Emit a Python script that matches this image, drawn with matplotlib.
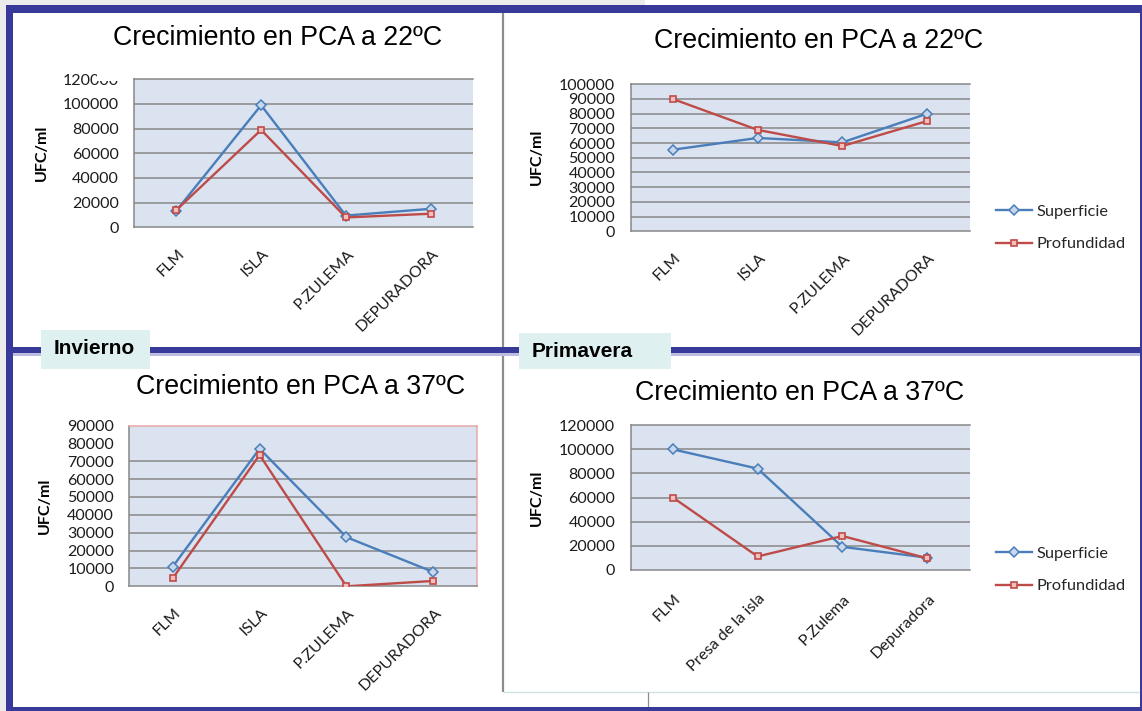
import matplotlib
matplotlib.use("Agg")
import matplotlib.pyplot as plt
import matplotlib.transforms as mtransforms
from matplotlib.patches import Rectangle
from matplotlib.lines import Line2D

# ---------------------------------------------------------------- data
cats_upper = ["FLM", "ISLA", "P.ZULEMA", "DEPURADORA"]
cats_spring37 = ["FLM", "Presa de la isla", "P.Zulema", "Depuradora"]
series_names = ["Superficie", "Profundidad"]

winter22_sup = [13500, 99000, 9500, 15000]
winter22_pro = [14000, 79000, 8000, 11000]

spring22_sup = [55500, 63500, 60500, 80000]
spring22_pro = [90000, 69000, 58000, 75000]

winter37_sup = [11000, 77000, 27500, 8000]
winter37_pro = [4500, 73500, 0, 3000]

spring37_sup = [100000, 84000, 19000, 10000]
spring37_pro = [60000, 11000, 28000, 9500]

title22 = "Crecimiento en PCA a 22ºC"
title37 = "Crecimiento en PCA a 37ºC"
ylabel = "UFC/ml"
season_winter = "Invierno"
season_spring = "Primavera"

# ---------------------------------------------------------------- style
W, H, DPI = 1142, 711, 100
BAND = "#373A98"
PLOT_BG = "#DAE3EF"
GRID = "#878787"
BLUE = "#4A7EBB"
RED = "#BE4B48"
BOX = "#DEF0F0"
DIVIDER = "#8C8C8C"
PINK = "#E8A8A8"

plt.rcParams["font.family"] = ["Lato", "DejaVu Sans"]

fig = plt.figure(figsize=(W / DPI, H / DPI), dpi=DPI)
fig.patch.set_facecolor("white")


def fx(x):
    return x / W


def fy(y):
    return 1 - y / H


def rect_px(x0, y0, x1, y1, color, z=1):
    fig.add_artist(Rectangle((fx(x0), fy(y1)), (x1 - x0) / W, (y1 - y0) / H,
                             transform=fig.transFigure, facecolor=color,
                             edgecolor="none", zorder=z))


def line_px(x0, y0, x1, y1, color, lw, z=1):
    fig.add_artist(Line2D([fx(x0), fx(x1)], [fy(y0), fy(y1)],
                          transform=fig.transFigure, color=color, lw=lw,
                          zorder=z, solid_capstyle="butt"))


def axes_px(x0, y0, x1, y1):
    return fig.add_axes([fx(x0), fy(y1), (x1 - x0) / W, (y1 - y0) / H])


def chart(ax, cats, sup, pro, ymax, ystep, grid_vals, xpad,
          top_color=GRID, right_color=None):
    x = list(range(len(cats)))
    ax.set_facecolor(PLOT_BG)
    ax.set_xlim(-0.5, len(cats) - 0.5)
    ax.set_ylim(0, ymax)
    ticks = list(range(0, ymax + 1, ystep))
    ax.set_yticks(ticks)
    ax.set_yticklabels([str(t) for t in ticks], fontsize=11.5, color="#1c1c1c")
    for v in grid_vals:
        ax.axhline(v, color=GRID, lw=1.1, zorder=1)
    ax.plot(x, sup, color=BLUE, lw=1.7, marker="D", ms=4.6, mfc="#C8D7EC",
            mec=BLUE, mew=1.1, label=series_names[0], zorder=3)
    ax.plot(x, pro, color=RED, lw=1.7, marker="s", ms=5.0, mfc="#F4BEBC",
            mec=RED, mew=1.2, label=series_names[1], zorder=4)
    ax.set_xticks(x)
    ax.set_xticklabels(cats, rotation=45, ha="right", va="top",
                       rotation_mode="anchor", fontsize=11.5, color="#1c1c1c")
    ax.tick_params(length=0)
    ax.tick_params(axis="y", pad=11)
    ax.tick_params(axis="x", pad=xpad)
    shift = mtransforms.ScaledTranslation(0.5 / 72, 0, fig.dpi_scale_trans)
    for lab in ax.get_xticklabels():
        lab.set_transform(lab.get_transform() + shift)
    for side in ("left", "bottom"):
        ax.spines[side].set_color(GRID)
        ax.spines[side].set_linewidth(1.1)
    ax.spines["top"].set_color(top_color)
    ax.spines["top"].set_linewidth(1.1)
    if right_color is None:
        ax.spines["right"].set_visible(False)
    else:
        ax.spines["right"].set_color(right_color)
        ax.spines["right"].set_linewidth(1.1)


def legend_px(ax, cx, cy):
    ax.legend(loc="center left", bbox_to_anchor=(fx(cx), fy(cy)),
              bbox_transform=fig.transFigure, frameon=False,
              prop={"family": ["Lato", "DejaVu Sans"], "size": 11.8},
              labelcolor="#262626", handlelength=2.2, handletextpad=0.3,
              labelspacing=1.1, borderpad=0, borderaxespad=0)


def title_px(text, cx, cy):
    fig.text(fx(cx), fy(cy), text, ha="center", va="center", fontsize=19.3,
             family=["Liberation Sans", "DejaVu Sans"], color="black")


def ylabel_px(cx, cy):
    fig.text(fx(cx), fy(cy), ylabel, rotation=90, ha="center", va="center",
             fontsize=11.5, fontweight="bold", color="black")


# ---------------------------------------------------------------- frame
rect_px(0, 0, 645, 5, "#ECECEC", 0)
rect_px(0, 0, 6, 711, "#ECECEC", 0)
line_px(502.7, 13, 502.7, 692, DIVIDER, 1.6, 1)
line_px(502.7, 692, 1139, 692, "#CFE2E2", 1.0, 1)
line_px(648.3, 692, 648.3, 707, DIVIDER, 0.9, 1)
rect_px(6, 5, 1142, 13, BAND, 5)
rect_px(6, 5, 13.3, 711, BAND, 5)
rect_px(1139.5, 5, 1142, 711, BAND, 5)
rect_px(6, 706.7, 1142, 711, BAND, 5)
rect_px(13, 347.3, 1140, 353.3, BAND, 5)
rect_px(13, 353.3, 1140, 355.5, "#BDBDE2", 5)

# ---------------------------------------------------------------- panels
ax1 = axes_px(134, 79.3, 473, 227.3)
chart(ax1, cats_upper, winter22_sup, winter22_pro, 120000, 20000,
      [20000, 40000, 60000, 80000, 100000], xpad=14)
title_px(title22, 277.5, 37.7)
ylabel_px(41.5, 153)
# the top of the last label is masked in the source layout
rect_px(97, 69, 121, 80.5, "white", 10)

ax2 = axes_px(630.5, 84.3, 969.5, 231.3)
chart(ax2, cats_upper, spring22_sup, spring22_pro, 100000, 10000,
      list(range(10000, 100000, 10000)), xpad=14)
title_px(title22, 819, 40.8)
ylabel_px(537, 156.7)
legend_px(ax2, 996, 228)

ax3 = axes_px(129.3, 425.5, 476.7, 586.3)
chart(ax3, cats_upper, winter37_sup, winter37_pro, 90000, 10000,
      list(range(10000, 80000, 10000)), xpad=14,
      top_color=PINK, right_color=PINK)
title_px(title37, 300.5, 386.7)
ylabel_px(45, 506)

ax4 = axes_px(630.5, 425.3, 969.5, 569.7)
chart(ax4, cats_spring37, spring37_sup, spring37_pro, 120000, 20000,
      [20000, 40000, 60000, 80000, 100000], xpad=16)
title_px(title37, 799.5, 393)
ylabel_px(537, 497.5)
legend_px(ax4, 996, 570)

# ---------------------------------------------------------------- season tags
rect_px(41, 330, 150, 369, BOX, 8)
fig.text(fx(54), fy(348.3), season_winter, ha="left", va="center",
         fontsize=15, fontweight="bold",
         family=["Liberation Sans", "DejaVu Sans"], zorder=9)
rect_px(519, 333, 671, 369, BOX, 8)
fig.text(fx(532), fy(351.7), season_spring, ha="left", va="center",
         fontsize=15, fontweight="bold",
         family=["Liberation Sans", "DejaVu Sans"], zorder=9)

fig.savefig("out.png", dpi=DPI, facecolor=fig.get_facecolor())
